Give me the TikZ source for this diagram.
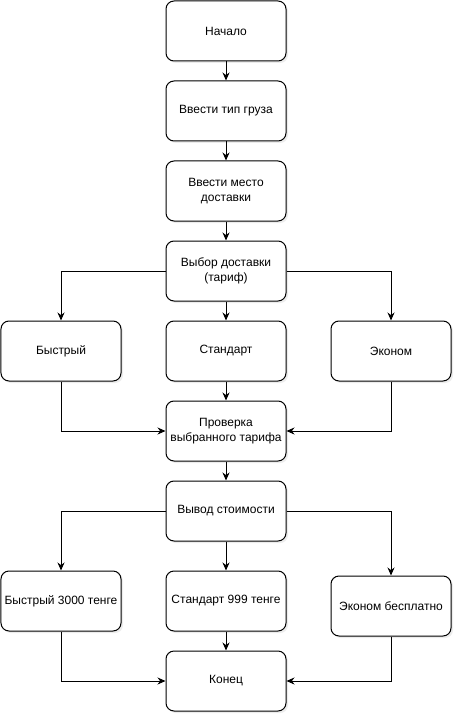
\documentclass[tikz,border=0pt]{standalone}
\usepackage{fontspec}
\setmainfont{Liberation Sans}
\usetikzlibrary{arrows.meta,shadows}

\begin{document}
\begin{tikzpicture}[x=1pt,y=-1pt]

        \useasboundingbox (-1,-1) rectangle (461,721);

        \begin{scope}[every node/.style={draw, rectangle, rounded corners=8pt, line width=1pt,
            minimum width=120pt, minimum height=60pt, align=center, fill=white,
            font=\fontsize{12}{15}\selectfont,
            drop shadow={opacity=0.15, shadow xshift=2pt, shadow yshift=-2pt}}]
          \node (1)  at (225,30)  {Начало};
          \node (2)  at (225,110) {Ввести тип груза};
          \node (3)  at (225,190) {Ввести место\\доставки};
          \node (4)  at (225,270) {Выбор доставки\\(тариф)};
          \node (5)  at (60,350)  {Быстрый};
          \node (6)  at (225,350) {Стандарт};
          \node (7)  at (390,350) {Эконом};
          \node (8)  at (225,430) {Проверка\\выбранного тарифа};
          \node (9)  at (225,510) {Вывод стоимости};
          \node (10) at (60,600)  {Быстрый 3000 тенге};
          \node (11) at (225,600) {Стандарт 999 тенге};
          \node (12) at (390,605) {Эконом бесплатно};
          \node (13) at (225,680) {Конец};
        \end{scope}

        \begin{scope}[every path/.style={draw, line width=1pt, -{Stealth[length=8pt,width=7pt]}}]
          \path (1) -- (2);
          \path (2) -- (3);
          \path (3) -- (4);
          \path (4.west) -| (5.north);
          \path (4) -- (6);
          \path (4.east) -| (7.north);
          \path (5.south) |- (8.west);
          \path (6) -- (8);
          \path (7.south) |- (8.east);
          \path (8) -- (9);
          \path (9.west) -| (10.north);
          \path (9) -- (11);
          \path (9.east) -| (12.north);
          \path (10.south) |- (13.west);
          \path (11) -- (13);
          \path (12.south) |- (13.east);
        \end{scope}

      \end{tikzpicture}
\end{document}
